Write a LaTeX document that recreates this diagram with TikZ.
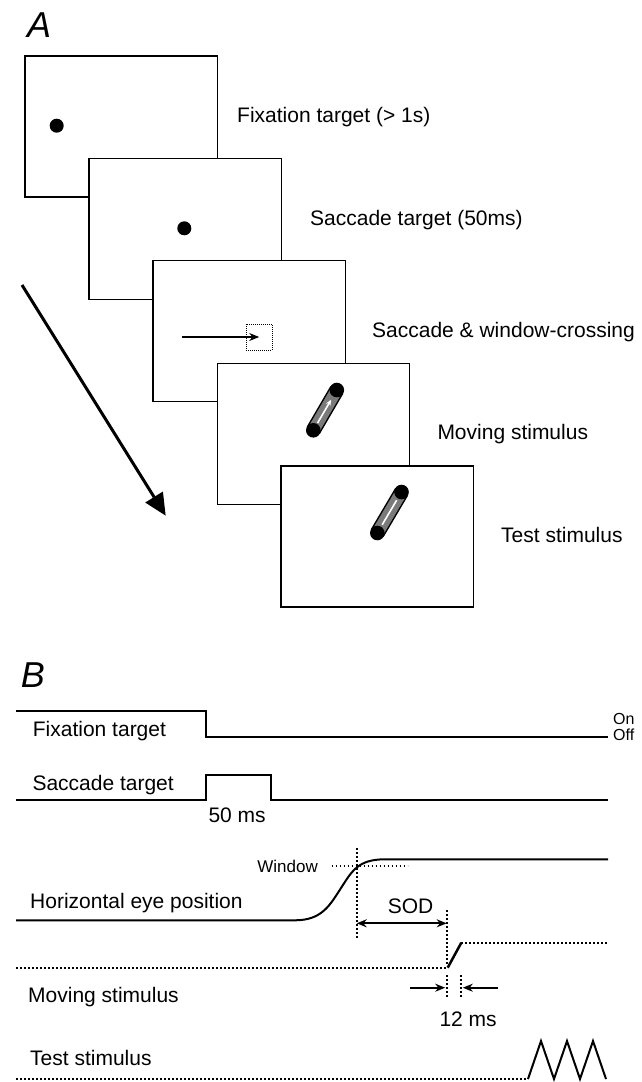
\documentclass[tikz,border=0pt]{standalone}
\usepackage{fontspec}
\setmainfont{Liberation Sans}
\usetikzlibrary{arrows.meta,calc}
\definecolor{rodgray}{HTML}{7A7A7A}
\begin{document}
\begin{tikzpicture}[x=1pt,y=-1pt,
  lbl/.style={anchor=base west, inner sep=0pt, font=\fontsize{21}{25}\selectfont},
  small/.style={anchor=base west, inner sep=0pt, font=\fontsize{16}{19}\selectfont},
  panel/.style={anchor=base west, inner sep=0pt, font=\fontsize{36}{40}\selectfont\itshape},
  screen/.style={draw, line width=1.3pt, fill=white, anchor=north west,
                 minimum width=192.4pt, minimum height=141pt, inner sep=0pt},
  dot/.style={circle, fill=black, minimum size=14pt, inner sep=0pt},
  sig/.style={line width=2pt},
  dots/.style={line width=1.8pt, dash pattern=on 1.6pt off 2.4pt},
  head/.style={-{Stealth[length=10pt,width=8pt]}}
]
\useasboundingbox (0,0) rectangle (641,1082);

% ---------- A: sequence of screens ----------
\node[panel] (labA) at (27,37.3) {A};

\node[screen] (s1) at (24.3,55.3) {};
\node[dot] (d1) at (56.7,125.7) {};
\node[lbl] (t1) at (237,122.7) {Fixation target (> 1s)};

\node[screen] (s2) at (88.3,157.7) {};
\node[dot] (d2) at (184.3,228.3) {};
\node[lbl] (t2) at (310,225) {Saccade target (50ms)};

\node[screen] (s3) at (152.3,260) {};
\coordinate (sacfrom) at (181.7,337);
\node[draw, line width=1pt, dash pattern=on 1pt off 1pt, minimum size=26pt, inner sep=0pt] (win) at (259.2,337) {};
\draw[line width=1.3pt, -{Stealth[length=10pt,width=8pt]}] (sacfrom) -- (win.center);
\node[lbl] (t3) at (372,337) {Saccade \& window-crossing};

\node[screen] (s4) at (216.7,362.7) {};
\coordinate (r4a) at (313.3,430.3);
\coordinate (r4b) at (336.8,390);
\draw[line width=15pt] (r4a) -- (r4b);
\draw[line width=12pt, rodgray] (r4a) -- (r4b);
\fill (r4a) circle[radius=7.3pt];
\fill (r4b) circle[radius=7.3pt];
\draw[white, line width=1.6pt, -{Stealth[length=6pt,width=5pt]}]
  ($(r4a)!0.18!(r4b)$) -- ($(r4a)!0.76!(r4b)$);
\node[lbl] (t4) at (437.3,439.3) {Moving stimulus};

\node[screen] (s5) at (280.3,465.3) {};
\coordinate (r5a) at (377.3,533);
\coordinate (r5b) at (401.5,492);
\draw[line width=15pt] (r5a) -- (r5b);
\draw[line width=12pt, rodgray] (r5a) -- (r5b);
\fill (r5a) circle[radius=7.3pt];
\fill (r5b) circle[radius=7.3pt];
\draw[white, line width=1.6pt] ($(r5a)!0.2!(r5b)$) -- ($(r5a)!0.8!(r5b)$);
\node[lbl] (t5) at (501,542) {Test stimulus};

\coordinate (tfrom) at (22,285);
\coordinate (tto) at (165.7,515.7);
\draw[line width=3pt, -{Triangle[length=22pt,width=20pt]}] (tfrom) -- (tto);

% ---------- B: time course ----------
\node[panel] (labB) at (20.7,687.7) {B};

% fixation target
\draw[sig] (16,711) -- (205.7,711) -- (205.7,736.7) -- (608,736.7);
\node[lbl] (f) at (32.7,736.7) {Fixation target};
\node[small] (on) at (613,724.5) {On};
\node[small] (off) at (613,740) {Off};

% saccade target
\draw[sig] (16,800.3) -- (206.3,800.3) -- (206.3,774.7) -- (270.5,774.7) -- (270.5,800.3) -- (608,800.3);
\node[lbl] (st) at (32.3,790.7) {Saccade target};
\node[lbl] (ms50) at (208.3,822.2) {50 ms};

% horizontal eye position
\draw[sig] (16,920.3) -- (295,920.3) .. controls (322,920.3) and (330,905) .. (341,888)
  .. controls (352,871) and (358,859.3) .. (385,859.3) -- (608,859.3);
\node[lbl] (eye) at (30,908) {Horizontal eye position};
\node[small, anchor=base east, font=\fontsize{17}{20}\selectfont] (wlab) at (318,872.7) {Window};
\draw[dots] (331.7,866) -- (407.7,866);
\coordinate (cross) at (356.7,923.3);
\draw[dots] (356.7,848) -- (356.7,939);

% stimulus onset delay
\coordinate (sod) at (446.7,923.3);
\draw[line width=2pt, {Stealth[length=10pt,width=8pt]}-{Stealth[length=10pt,width=8pt]}] (cross) -- (sod);
\node[lbl] (sodl) at (387.7,913.3) {SOD};
\draw[dots] (446.7,910) -- (446.7,966);

% moving stimulus
\coordinate (mv0) at (447.7,967.7);
\coordinate (mv1) at (461.3,942.7);
\draw[dots] (16,967.7) -- (mv0);
\draw[line width=2.5pt] (mv0) -- (mv1);
\draw[dots] (mv1) -- (608,942.7);
\node[lbl] (mov) at (28,1002) {Moving stimulus};
\draw[dots] (446.7,975) -- (446.7,998.3);
\draw[dots] (461.3,975) -- (461.3,998.3);
\coordinate (la) at (410,987.7);
\coordinate (lb) at (445.2,987.7);
\coordinate (ra) at (498.3,987.7);
\coordinate (rb) at (462.8,987.7);
\draw[line width=2pt, head] (la) -- (lb);
\draw[line width=2pt, head] (ra) -- (rb);
\node[lbl] (ms12) at (439.3,1026.7) {12 ms};

% test stimulus
\node[lbl] (test) at (30,1065) {Test stimulus};
\draw[dots] (16,1079) -- (528,1079);
\draw[sig, line join=miter] (528,1079) -- (541,1041) -- (554,1079) -- (567,1041) -- (580,1079) -- (593,1041) -- (606,1079);
\end{tikzpicture}
\end{document}
